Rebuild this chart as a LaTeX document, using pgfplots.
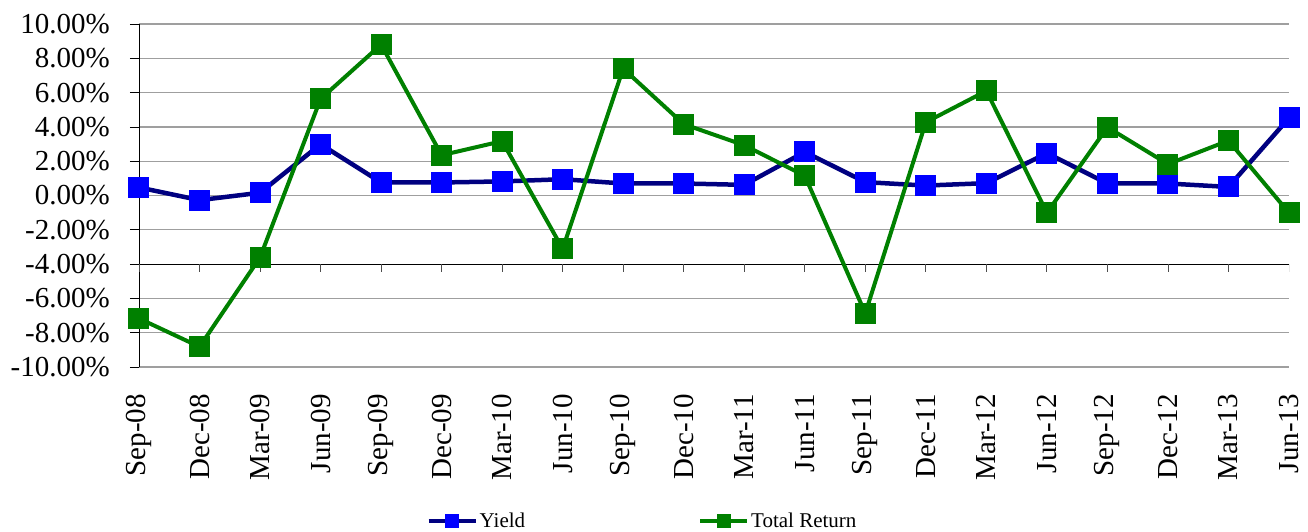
\documentclass[border=0pt]{standalone}
\usepackage{pgfplots}
\pgfplotsset{compat=1.18}
\usepackage{fontspec}
\setmainfont{Liberation Serif}
\definecolor{navy}{RGB}{0,0,128}
\definecolor{mblue}{RGB}{0,0,255}
\definecolor{mgreen}{RGB}{0,128,0}
\begin{document}
\begin{tikzpicture}
\useasboundingbox (-139pt,-164pt) rectangle (1169pt,367pt);
\begin{axis}[
  anchor=south west, at={(0pt,0pt)},
  scale only axis, width=1150pt, height=343pt,
  xmin=0, xmax=19, ymin=-10, ymax=10,
  axis x line*=bottom, axis y line*=left,
  x axis line style={draw=none},
  y axis line style={-, line width=0.8pt},
  xtick={0,...,19},
  xticklabels={Sep-08,Dec-08,Mar-09,Jun-09,Sep-09,Dec-09,Mar-10,Jun-10,Sep-10,Dec-10,Mar-11,Jun-11,Sep-11,Dec-11,Mar-12,Jun-12,Sep-12,Dec-12,Mar-13,Jun-13},
  ytick={-10,-8,...,10},
  yticklabels={-10.00\%,-8.00\%,-6.00\%,-4.00\%,-2.00\%,0.00\%,2.00\%,4.00\%,6.00\%,8.00\%,10.00\%},
  tick label style={font=\fontsize{29}{33}\selectfont},
  x tick label style={rotate=90, anchor=east, inner sep=0pt},
  xticklabel shift=18pt,
  y tick label style={inner sep=0pt},
  yticklabel shift=20pt,
  ymajorgrids, grid style={draw=gray!75, line width=1.2pt},
  tick align=outside, major tick length=9pt,
  x tick style={draw=none},
  y tick style={black, line width=0.8pt},
  legend columns=2,
  legend style={draw=none, fill=none, inner sep=0pt, at={(0.250,-0.449)}, anchor=west,
    font=\fontsize{21}{24}\selectfont,
    /tikz/every even column/.append style={column sep=171pt}},
  legend cell align=left,
  legend image code/.code={\draw[mark repeat=2,mark phase=2,mark size=6.5pt,line width=4pt] plot coordinates {(0pt,0pt) (23.5pt,0pt) (47pt,0pt)};},
]
\draw[black, line width=0.8pt] (axis cs:0,-4) -- (axis cs:19,-4);
\pgfplotsinvokeforeach{0,...,19}{\draw[black!70, line width=0.8pt] (axis cs:#1,-4) -- ++(0pt,-8pt);}
\addplot[navy, line width=4.5pt, mark=square*, mark size=10pt, mark options={fill=mblue, draw=mblue, line width=0pt}]
coordinates {(0,0.47) (1,-0.27) (2,0.16) (3,2.99) (4,0.76) (5,0.76) (6,0.82) (7,0.95) (8,0.70) (9,0.70) (10,0.62) (11,2.54) (12,0.78) (13,0.58) (14,0.72) (15,2.47) (16,0.70) (17,0.70) (18,0.50) (19,4.52)};
\addlegendentry{Yield}
\addplot[mgreen, line width=4pt, mark=square*, mark size=10pt, mark options={fill=mgreen, draw=mgreen, line width=0pt}]
coordinates {(0,-7.17) (1,-8.82) (2,-3.61) (3,5.63) (4,8.80) (5,2.35) (6,3.17) (7,-3.11) (8,7.40) (9,4.16) (10,2.93) (11,1.15) (12,-6.87) (13,4.27) (14,6.10) (15,-1.01) (16,3.98) (17,1.83) (18,3.20) (19,-1.01)};
\addlegendentry{Total Return}
\end{axis}
\end{tikzpicture}
\end{document}
